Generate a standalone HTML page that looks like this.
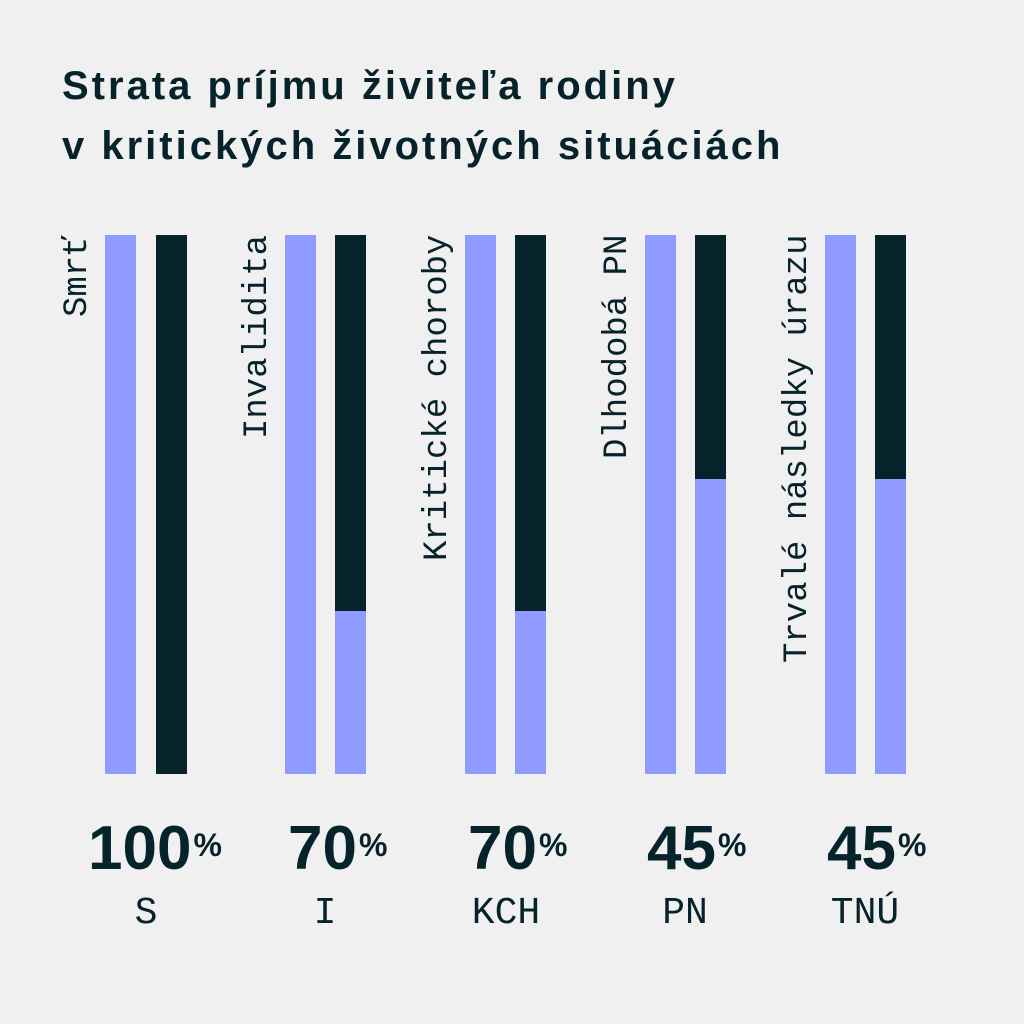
<!DOCTYPE html>
<html><head><meta charset="utf-8"><style>
body{margin:0;width:1024px;height:1024px;background:#f0f0f0;position:relative;overflow:hidden;font-family:"Liberation Sans",sans-serif;color:#06232b}
.t{position:absolute;left:62px;font-weight:bold;font-size:40px;line-height:40px;letter-spacing:3px;white-space:nowrap}
.b{position:absolute;width:31px}
.l{background:#8f9bff}.d{background:#06232b}
.v{position:absolute;top:235px;height:540px;width:34px;writing-mode:vertical-rl;transform:rotate(180deg);text-align:end;font-family:"Liberation Mono",monospace;font-size:34px;line-height:34px;white-space:nowrap}
.p{position:absolute;top:818px;font-weight:bold;font-size:62px;line-height:62px;white-space:nowrap}
.p sup{font-size:32px;vertical-align:top;position:relative;top:-4px;margin-left:2px}
.c{position:absolute;top:894px;width:120px;text-align:center;font-family:"Liberation Mono",monospace;font-size:38px;line-height:40px}
</style></head><body>
<div class="t" style="top:66px">Strata príjmu živiteľa rodiny</div>
<div class="t" style="top:126px">v kritických životných situáciách</div>

<div class="b l" style="left:105px;top:235px;height:539px"></div>
<div class="b d" style="left:156px;top:235px;height:539px"></div>
<div class="b l" style="left:285px;top:235px;height:539px"></div>
<div class="b l" style="left:335px;top:235px;height:539px"></div>
<div class="b d" style="left:335px;top:235px;height:376px"></div>
<div class="b l" style="left:465px;top:235px;height:539px"></div>
<div class="b l" style="left:515px;top:235px;height:539px"></div>
<div class="b d" style="left:515px;top:235px;height:376px"></div>
<div class="b l" style="left:645px;top:235px;height:539px"></div>
<div class="b l" style="left:695px;top:235px;height:539px"></div>
<div class="b d" style="left:695px;top:235px;height:244px"></div>
<div class="b l" style="left:825px;top:235px;height:539px"></div>
<div class="b l" style="left:875px;top:235px;height:539px"></div>
<div class="b d" style="left:875px;top:235px;height:244px"></div>

<div class="v" style="left:61px">Smrť</div>
<div class="v" style="left:241px">Invalidita</div>
<div class="v" style="left:421px">Kritické choroby</div>
<div class="v" style="left:601px">Dlhodobá PN</div>
<div class="v" style="left:781px">Trvalé následky úrazu</div>

<div class="p" style="left:88px">100<sup>%</sup></div>
<div class="p" style="left:288px">70<sup>%</sup></div>
<div class="p" style="left:468px">70<sup>%</sup></div>
<div class="p" style="left:647px">45<sup>%</sup></div>
<div class="p" style="left:827px">45<sup>%</sup></div>

<div class="c" style="left:86px">S</div>
<div class="c" style="left:265px">I</div>
<div class="c" style="left:446px">KCH</div>
<div class="c" style="left:625px">PN</div>
<div class="c" style="left:805px">TNÚ</div>
</body></html>
